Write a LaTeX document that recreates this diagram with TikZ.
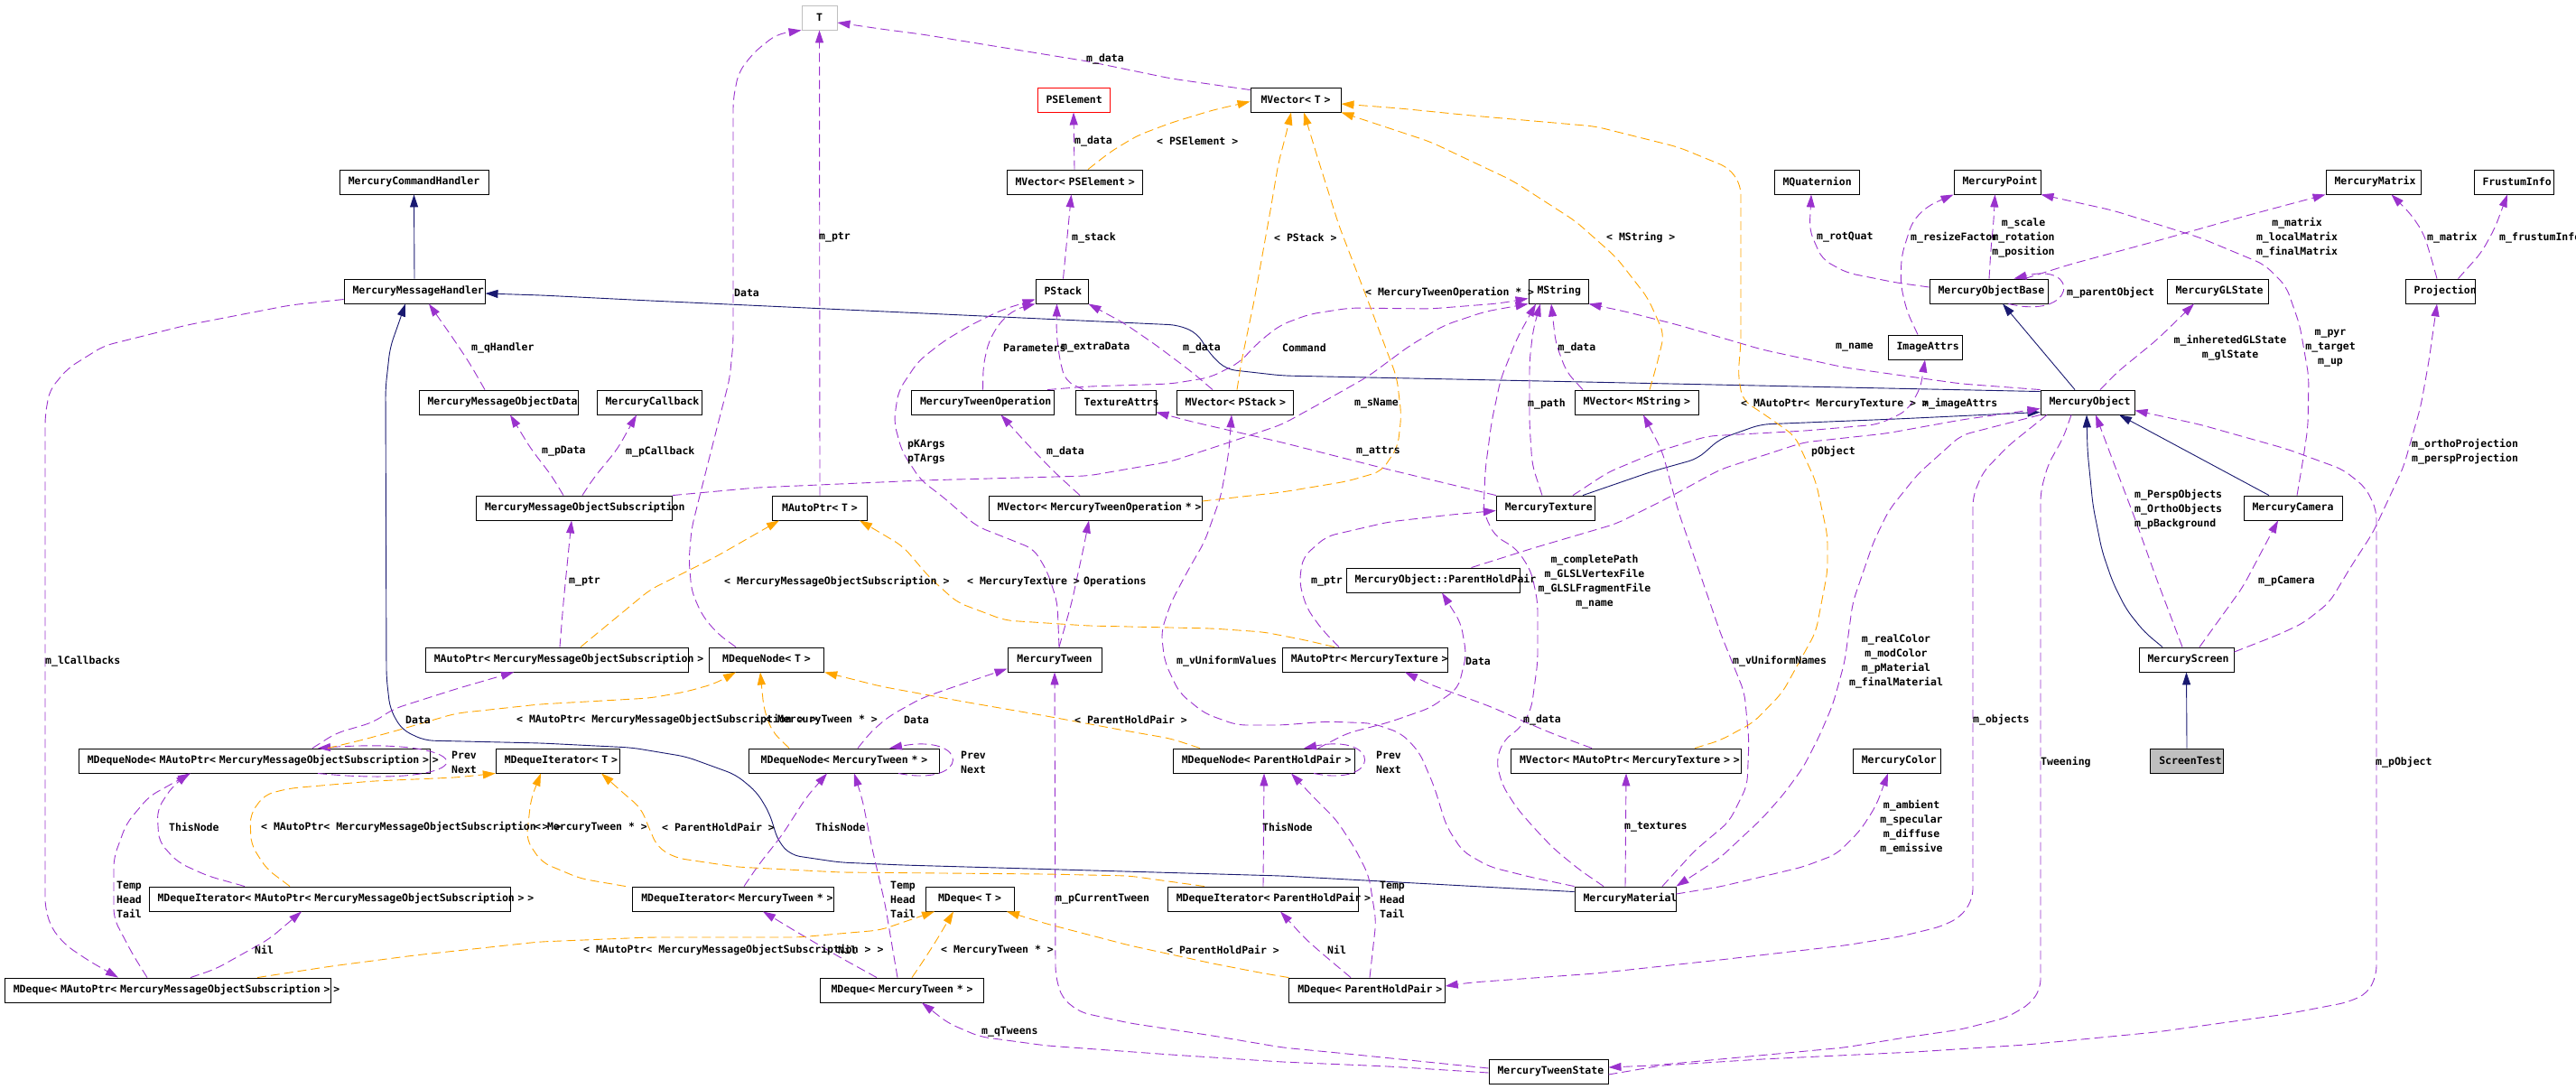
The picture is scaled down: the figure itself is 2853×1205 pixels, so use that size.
\documentclass[tikz,border=0pt]{standalone}
\usepackage{fontspec}
\setmonofont{DejaVu Sans Mono}
\usepackage{xcolor}
\usetikzlibrary{arrows.meta}

\definecolor{usecol}{HTML}{9A32CD}
\definecolor{tplcol}{HTML}{FFA500}
\definecolor{inhcol}{HTML}{191970}
\definecolor{boxgray}{HTML}{BFBFBF}
\newcommand{\dfont}{\ttfamily\bfseries\fontsize{11.5pt}{16pt}\selectfont}

\tikzset{
  cls/.style={draw=black, fill=white, line width=0.9pt, inner xsep=9.5pt, inner ysep=0pt,
    minimum height=27pt, text width=#1, align=center, font=\dfont},
  lbl/.style={font=\dfont, inner sep=0pt, anchor=west},
  member/.style={draw=usecol, line width=0.9pt, dash pattern=on 10pt off 5pt,
    rounded corners=10pt, -{Triangle[length=14pt,width=9pt]}},
  tmpl/.style={member, draw=tplcol},
  inherit/.style={draw=inhcol, line width=0.9pt, rounded corners=10pt,
    -{Triangle[length=14pt,width=9pt]}}
}

\begin{document}
\begin{tikzpicture}[x=1pt, y=-1pt]
  \useasboundingbox (0,0) rectangle (2853,1205);

  % Classes, row by row
  \node[cls=20pt, draw=boxgray] (tparam) at (907.5,19.5) {T};
  \node[cls=61pt, draw=red] (psel) at (1189,110.5) {PSElement};
  \node[cls=81pt] (mvt) at (1435,110.5) {\mbox{MVector< T >}};
  \node[cls=146pt] (mch) at (458.5,201.5) {MercuryCommandHandler};
  \node[cls=131pt] (mvpse) at (1190,201.5) {\mbox{MVector< PSElement >}};
  \node[cls=75pt] (mquat) at (2012,201.5) {MQuaternion};
  \node[cls=77pt] (mpoint) at (2212,201.5) {MercuryPoint};
  \node[cls=86pt] (mmatrix) at (2628.5,201.5) {MercuryMatrix};
  \node[cls=69pt] (frustum) at (2784,201.5) {FrustumInfo};
  \node[cls=137pt] (mmh) at (459,322.5) {MercuryMessageHandler};
  \node[cls=39pt] (pstack) at (1176,322.5) {PStack};
  \node[cls=47pt] (mstring) at (1726,322.5) {MString};
  \node[cls=112pt] (mobase) at (2202.5,322.5) {MercuryObjectBase};
  \node[cls=93pt] (mglstate) at (2456,322.5) {MercuryGLState};
  \node[cls=58pt] (proj) at (2702.5,322.5) {Projection};
  \node[cls=63pt] (imgattrs) at (2132,384.5) {ImageAttrs};
  \node[cls=157pt] (mmodata) at (552,445.5) {MercuryMessageObjectData};
  \node[cls=97pt] (mcallback) at (719,445.5) {MercuryCallback};
  \node[cls=139pt] (mtop) at (1088.5,445.5) {MercuryTweenOperation};
  \node[cls=70pt] (texattrs) at (1235.5,445.5) {TextureAttrs};
  \node[cls=110pt] (mvpstack) at (1367.5,445.5) {\mbox{MVector< PStack >}};
  \node[cls=118pt] (mvmstring) at (1812.5,445.5) {\mbox{MVector< MString >}};
  \node[cls=85pt] (mobj) at (2312,445.5) {MercuryObject};
  \node[cls=198pt] (mmosub) at (636,562.5) {MercuryMessageObjectSubscription};
  \node[cls=85.5pt] (mapt) at (908,562.5) {\mbox{MAutoPtr< T >}};
  \node[cls=217pt] (mvmtop) at (1213,562.5) {\mbox{MVector< MercuryTweenOperation * >}};
  \node[cls=90.5pt] (mtex) at (1712,562.5) {MercuryTexture};
  \node[cls=90pt] (mcam) at (2539.5,562.5) {MercuryCamera};
  \node[cls=173pt] (phpair) at (1587,642.5) {MercuryObject::ParentHoldPair};
  \node[cls=272.5pt] (mapmmos) at (617,730.5) {\mbox{MAutoPtr< MercuryMessageObjectSubscription >}};
  \node[cls=108.5pt] (mdnt) at (849,730.5) {\mbox{MDequeNode< T >}};
  \node[cls=85pt] (mtween) at (1168,730.5) {MercuryTween};
  \node[cls=164.5pt] (maptex) at (1512,730.5) {\mbox{MAutoPtr< MercuryTexture >}};
  \node[cls=86pt] (mscreen) at (2421.5,730.5) {MercuryScreen};
  \node[cls=370.5pt] (mdnmmos) at (282,842.5) {\mbox{MDequeNode< MAutoPtr< MercuryMessageObjectSubscription > >}};
  \node[cls=118.5pt] (mdit) at (618,842.5) {\mbox{MDequeIterator< T >}};
  \node[cls=191.5pt] (mdntw) at (935,842.5) {\mbox{MDequeNode< MercuryTween * >}};
  \node[cls=182.5pt] (mdnphp) at (1400,842.5) {\mbox{MDequeNode< ParentHoldPair >}};
  \node[cls=236pt] (mvmaptex) at (1801,842.5) {\mbox{MVector< MAutoPtr< MercuryTexture > >}};
  \node[cls=78.5pt] (mcolor) at (2101,842.5) {MercuryColor};
  \node[cls=61.5pt, fill=boxgray] (screentest) at (2422,842.5) {ScreenTest};
  \node[cls=381pt] (mdimmos) at (365,995.5) {\mbox{MDequeIterator< MAutoPtr< MercuryMessageObjectSubscription > >}};
  \node[cls=203.5pt] (mditw) at (812,995.5) {\mbox{MDequeIterator< MercuryTween * >}};
  \node[cls=79pt] (mdqt) at (1074,995.5) {\mbox{MDeque< T >}};
  \node[cls=192.5pt] (mdiphp) at (1399,995.5) {\mbox{MDequeIterator< ParentHoldPair >}};
  \node[cls=93pt] (mmat) at (1800,995.5) {MercuryMaterial};
  \node[cls=342.5pt] (mdqmmos) at (186,1096.5) {\mbox{MDeque< MAutoPtr< MercuryMessageObjectSubscription > >}};
  \node[cls=161.5pt] (mdqtw) at (999,1096.5) {\mbox{MDeque< MercuryTween * >}};
  \node[cls=153.5pt] (mdqphp) at (1514,1096.5) {\mbox{MDeque< ParentHoldPair >}};
  \node[cls=113pt] (mtstate) at (1715,1186.5) {MercuryTweenState};

  % Inheritance
  \draw[inherit] (mmh.north) -- (mch.south);
  \draw[inherit] ([yshift=-2pt]mobj.north west) -- (1420,416) -- (1358,409) -- (1340,392) -- (1326,369)
    -- (1305,360) -- (720,333) -- (600,327) -- ([yshift=-2.5pt]mmh.east);
  \draw[inherit] ([yshift=-6pt]mmat.north west) -- (1420,970) -- (1000,958) -- (930,955) -- (876,947)
    -- (862,932) -- (852,900) -- (838,877) -- (815,858) -- (760,838) -- (700,828) -- (600,823)
    -- (470,820) -- (445,808) -- (432,785) -- (428,750) -- (427,430) -- (432,385) -- ([xshift=-10pt]mmh.south);
  \draw[inherit] ([xshift=41pt]mtex.north) -- (1830,522) -- (1880,508) -- (1905,486) -- (1950,470)
    -- (2100,464) -- ([yshift=3pt]mobj.south west);
  \draw[inherit] ([xshift=-14pt]mobj.north) -- ([xshift=15.5pt]mobase.south);
  \draw[inherit] ([xshift=-26.5pt]mcam.north) -- ([xshift=35pt]mobj.south);
  \draw[inherit] ([xshift=-26.5pt]mscreen.north) -- (2375,700) -- (2355,675) -- (2340,645) -- (2328,610)
    -- (2318,560) -- (2312,500) -- ([xshift=-1pt]mobj.south);
  \draw[inherit] (screentest.north) -- (mscreen.south);

  % Members: template side
  \draw[member] ([yshift=-3pt]mvt.north west) -- (1297,87) -- (1205,68) -- (1113,53) -- (1021,38)
    -- (975,32) -- ([yshift=-5.5pt]tparam.east);
  \draw[member] (mapt.north) -- (tparam.south);
  \draw[member] ([xshift=-34pt]mdnt.north) -- (795,702) -- (778,682) -- (766,655) -- (763,620) -- (766,585)
    -- (776,545) -- (795,470) -- (808,420) -- (812,380) -- (812,110) -- (818,80) -- (835,58) -- (860,38)
    -- (tparam.south west);
  \draw[member] (mvpse.north) -- (psel.south);
  \draw[member] ([xshift=1.5pt]pstack.north) -- ([xshift=-3.5pt]mvpse.south);

  % Members: PStack and MString
  \draw[member] ([xshift=5pt]mtween.north) -- (1171,667) -- (1160,633) -- (1145,608) -- (1110,594)
    -- (1082,583) -- (1044,550) -- (1020,532) -- (999,500) -- (990,467) -- (995,433) -- (1017,400)
    -- (1045,378) -- (1075,360) -- (1110,343) -- ([yshift=-9pt]pstack.west);
  \draw[member] (mtop.north) -- (1089,405) -- (1095,378) -- (1108,356) -- (1125,342) -- (pstack.south west);
  \draw[member] ([xshift=-35.5pt]texattrs.north) -- (1180,422) -- (1174,400) -- (1170,370)
    -- ([xshift=-5.5pt]pstack.south);
  \draw[member] ([xshift=-24.5pt]mvpstack.north) -- (1320,412) -- (1280,382) -- (1245,358) -- (pstack.south east);
  \draw[member] ([xshift=71.5pt]mtop.north) -- (1205,428) -- (1297,425) -- (1340,418) -- (1372,402)
    -- (1395,378) -- (1418,360) -- (1450,348) -- (1495,341) -- (1584,342) -- (1660,336)
    -- ([yshift=-8pt]mstring.west);
  \draw[member] (mmosub.north east) -- (838,540) -- (1021,532) -- (1205,527) -- (1297,511) -- (1361,490)
    -- (1420,470) -- (1469,443) -- (1515,417) -- (1561,383) -- (1600,360) -- (1645,345) -- (mstring.south west);
  \draw[member] ([xshift=-4pt]mtex.north) -- (1697,515) -- (1694,470) -- (1694,400) -- (1698,365)
    -- ([xshift=-20pt]mstring.south);
  \draw[member] ([xshift=-59.5pt]mvmstring.north) -- (1735,412) -- (1723,380) -- ([xshift=-8pt]mstring.south);
  \draw[member] ([xshift=-24pt]mmat.north) -- (1749,963) -- (1721,940) -- (1700,918) -- (1680,895)
    -- (1664,870) -- (1657,843) -- (1665,820) -- (1685,805) -- (1696,785) -- (1703,733) -- (1703,667)
    -- (1696,633) -- (1680,608) -- (1655,593) -- (1643,567) -- (1645,520) -- (1652,467) -- (1662,420)
    -- (1680,375) -- ([xshift=-25pt]mstring.south);
  \draw[member] (mobj.north west) -- (2172,425) -- (2043,407) -- (1951,387) -- (1859,360) -- (1800,345)
    -- (mstring.south east);

  % Members: MercuryObject and friends
  \draw[member] ([xshift=42.5pt]phpair.north) -- (1698,607) -- (1790,580) -- (1850,550) -- (1905,520)
    -- (1997,490) -- (2089,480) -- (2172,465) -- ([yshift=-7pt]mobj.west);
  \draw[member] ([xshift=30pt]mtex.north) -- (1781,523) -- (1836,500) -- (1891,483) -- (2000,477)
    -- (2080,470) -- (2112,455) -- (2127,430) -- (imgattrs.south);
  \draw[member] ([xshift=-45pt]mobj.south) -- (2225,493) -- (2196,523) -- (2185,550) -- (2185,995)
    -- (2172,1015) -- (2150,1026) -- (2105,1037) -- (2043,1047) -- (1905,1063) -- (1767,1078)
    -- (1630,1088) -- ([yshift=4.5pt]mdqphp.east);
  \draw[member] ([xshift=-18pt]mobj.south) -- (2285,485) -- (2268,515) -- (2260,545) -- (2260,1095)
    -- (2248,1112) -- (2222,1127) -- (2172,1140) -- (2110,1149) -- (2043,1160) -- (1905,1173)
    -- (1830,1180) -- ([yshift=4.5pt]mtstate.east);
  \draw[member] ([yshift=-3.5pt]mtstate.east) -- (1840,1180) -- (1951,1173) -- (2120,1165) -- (2244,1157)
    -- (2388,1143) -- (2532,1123) -- (2600,1110) -- (2622,1100) -- (2632,1080) -- (2632,565)
    -- (2620,540) -- (2595,520) -- (2532,497) -- (2436,470) -- ([yshift=-9pt]mobj.east);
  \draw[member] (mobj.south west) -- (2172,482) -- (2124,525) -- (2092,565) -- (2075,600) -- (2052,667)
    -- (2043,733) -- (2030,780) -- (2015,815) -- (1997,850) -- (1975,880) -- (1951,907) -- (1905,950)
    -- (mmat.north east);
  \draw[member] ([xshift=41pt]mmat.north) -- (1877,942) -- (1915,910) -- (1935,870) -- (1937,820)
    -- (1932,767) -- (1905,700) -- (1882,633) -- (1859,567) -- (1841,500) -- ([xshift=7.5pt]mvmstring.south);
  \draw[member] (mmat.north west) -- (1698,972) -- (1650,960) -- (1620,943) -- (1602,915) -- (1588,870)
    -- (1572,833) -- (1552,812) -- (1520,801) -- (1469,799) -- (1420,803) -- (1370,803) -- (1334,790)
    -- (1306,767) -- (1290,733) -- (1286,700) -- (1297,667) -- (1315,633) -- (1334,600) -- (1352,550)
    -- (1361,500) -- ([xshift=-3.5pt]mvpstack.south);
  \draw[member] (mmat.north) -- (mvmaptex.south);
  \draw[member] ([yshift=5.5pt]mmat.east) -- (1905,982) -- (1997,960) -- (2034,946) -- (2060,920)
    -- (2078,892) -- ([xshift=-10pt]mcolor.south);
  \draw[member] ([xshift=-38pt]mvmaptex.north) -- (1721,813) -- (1690,800) -- (1652,783) -- (1584,758)
    -- ([xshift=44pt]maptex.south);

  % Members: object base, camera, screen
  \draw[member] ([xshift=22pt]mobase.south) .. controls (2300,355) and (2305,290) .. ([xshift=28pt]mobase.north);
  \draw[member] ([xshift=0.5pt]mobase.north) -- (2205,275) -- (2208,245) -- ([xshift=-2.5pt]mpoint.south);
  \draw[member] ([xshift=-8pt]imgattrs.north) -- (2112,345) -- (2105,315) -- (2106,283) -- (2118,245)
    -- (2135,228) -- (mpoint.south west);
  \draw[member] ([yshift=4.5pt]mobase.west) -- (2100,313) -- (2045,302) -- (2018,287) -- (2004,255)
    -- ([xshift=-6pt]mquat.south);
  \draw[member] ([xshift=40pt]mobase.north) -- (2292,293) -- (2388,267) -- (2484,240) -- (mmatrix.south west);
  \draw[member] ([xshift=4.5pt]mcam.north) -- (2551,507) -- (2556,473) -- (2557,417) -- (2547,360)
    -- (2532,317) -- (2508,293) -- (2436,263) -- (2340,233) -- (mpoint.south east);
  \draw[member] ([xshift=14pt]mobj.north) -- (2345,412) -- (2388,377) -- ([xshift=-26pt]mglstate.south);
  \draw[member] ([xshift=-3.5pt]proj.north) -- (2691,280) -- (2684,258) -- (2670,237) -- ([xshift=20pt]mmatrix.south);
  \draw[member] ([xshift=20pt]proj.north) -- (2748,280) -- (2763,253) -- ([xshift=-7pt]frustum.south);
  \draw[member] ([yshift=8.5pt]mscreen.east) -- (2523,703) -- (2551,690) -- (2580,667) -- (2604,627)
    -- (2628,590) -- (2662,517) -- (2681,450) -- (2690,400) -- ([xshift=-3.5pt]proj.south);
  \draw[member] ([xshift=14.5pt]mscreen.north) -- (2484,650) -- ([xshift=-16.5pt]mcam.south);
  \draw[member] ([xshift=-4.5pt]mscreen.north) -- (2388,640) -- (2364,573) -- (2340,510) -- ([xshift=9pt]mobj.south);

  % Members: message handling
  \draw[member] ([xshift=-15pt]mmodata.north) -- (520,402) -- (502,375) -- ([xshift=16pt]mmh.south);
  \draw[member] ([yshift=-9pt]mmh.west) -- (321,338) -- (207,360) -- (115,383) -- (75,408) -- (55,432)
    -- (50,460) -- (50,1005) -- (57,1028) -- (73,1047) -- (100,1065) -- ([xshift=-55pt]mdqmmos.north);
  \draw[member] ([xshift=-12pt]mmosub.north) -- (611,527) -- (588,497) -- ([xshift=13pt]mmodata.south);
  \draw[member] ([xshift=9pt]mmosub.north) -- (657,530) -- (684,497) -- ([xshift=-14pt]mcallback.south);
  \draw[member] ([xshift=3pt]mapmmos.north) -- (624,667) -- ([xshift=-3pt]mmosub.south);
  \draw[member] ([xshift=64pt]mdnmmos.north) -- (372,812) -- (413,800) -- (436,785) -- (505,763)
    -- ([xshift=-48pt]mapmmos.south);
  \draw[member] ([xshift=70pt]mdnmmos.south) .. controls (540,875) and (540,815) .. ([xshift=70pt]mdnmmos.north);
  \draw[member] ([xshift=-94pt]mdimmos.north) -- (230,970) -- (197,955) -- (176,932) -- (174,897)
    -- (190,872) -- ([xshift=-73pt]mdnmmos.south);
  \draw[member] ([xshift=-23pt]mdqmmos.north) -- (147,1057) -- (126,1017) -- (126,950) -- (140,912)
    -- (165,882) -- ([xshift=-71pt]mdnmmos.south);
  \draw[member] ([xshift=25pt]mdqmmos.north) -- (239,1073) -- (298,1040) -- ([xshift=-31pt]mdimmos.south);

  % Members: tweens
  \draw[member] ([xshift=15pt]mdntw.north) -- (965,810) -- (985,793) -- (1021,773) -- (1067,757)
    -- ([yshift=-10pt]mtween.west);
  \draw[member] ([xshift=60pt]mdntw.south) .. controls (1075,872) and (1075,812) .. ([xshift=50pt]mdntw.north);
  \draw[member] ([xshift=12pt]mditw.north) -- (840,958) -- (866,925) -- (893,883) -- ([xshift=-19pt]mdntw.south);
  \draw[member] ([xshift=-5pt]mdqtw.north) -- (980,1000) -- (966,940) -- (955,885) -- ([xshift=11pt]mdntw.south);
  \draw[member] ([xshift=-28pt]mdqtw.north) -- (930,1060) -- (884,1033) -- ([xshift=33pt]mditw.south);
  \draw[member] ([yshift=-1.5pt]mtstate.west) -- (1538,1181) -- (1420,1176) -- (1297,1168) -- (1159,1158)
    -- (1085,1148) -- (1050,1133) -- ([xshift=22pt]mdqtw.south);
  \draw[member] ([yshift=3.5pt]mtstate.west) -- (1492,1167) -- (1420,1160) -- (1343,1147) -- (1251,1133)
    -- (1196,1121) -- (1176,1105) -- (1169,1080) -- (mtween.south);
  \draw[member] ([xshift=-17pt]mvmtop.north) -- (1168,523) -- (1136,490) -- ([xshift=20pt]mtop.south);
  \draw[member] ([xshift=5pt]mtween.north) -- (1187,667) -- (1200,607) -- ([xshift=-7pt]mvmtop.south);

  % Members: textures and parent pairs
  \draw[member] ([xshift=-29pt]maptex.north) -- (1464,697) -- (1447,673) -- (1439,645) -- (1443,617)
    -- (1469,594) -- (1538,578) -- (1607,570) -- ([yshift=-3pt]mtex.west);
  \draw[member] (mtex.north west) -- (1538,520) -- (1420,490) -- (1320,467) -- ([yshift=-11pt]texattrs.east);
  \draw[member] ([xshift=60pt]mdnphp.north) -- (1492,812) -- (1538,800) -- (1584,784) -- (1615,762)
    -- (1624,725) -- (1618,690) -- ([xshift=10pt]phpair.south);
  \draw[member] ([xshift=55pt]mdnphp.south) .. controls (1530,872) and (1530,812) .. ([xshift=44pt]mdnphp.north);
  \draw[member] (mdiphp.north) -- (mdnphp.south);
  \draw[member] ([xshift=3pt]mdqphp.north) -- (1524,1020) -- (1516,970) -- (1501,940) -- (1480,908)
    -- (1452,880) -- ([xshift=30pt]mdnphp.south);
  \draw[member] ([xshift=-18pt]mdqphp.north) -- (1469,1060) -- (1446,1040) -- ([xshift=19pt]mdiphp.south);

  % Template instances
  \draw[tmpl] ([xshift=15pt]mvpse.north) -- (1230,168) -- (1260,150) -- (1297,136) -- (1343,122)
    -- ([yshift=-2pt]mvt.west);
  \draw[tmpl] ([xshift=2.5pt]mvpstack.north) -- (1375,400) -- (1389,333) -- (1407,233) -- (1416,180)
    -- (1424,150) -- ([xshift=-5pt]mvt.south);
  \draw[tmpl] ([yshift=7.5pt]mvmtop.east) -- (1420,545) -- (1492,533) -- (1530,522) -- (1548,495)
    -- (1552,460) -- (1547,418) -- (1515,333) -- (1483,250) -- (1460,177) -- ([xshift=9pt]mvt.south);
  \draw[tmpl] ([xshift=14.5pt]mvmstring.north) -- (1836,400) -- (1843,370) -- (1825,330) -- (1790,285)
    -- (1745,245) -- (1675,200) -- (1584,157) -- (mvt.south east);
  \draw[tmpl] ([xshift=76pt]mvmaptex.north) -- (1905,820) -- (1942,800) -- (1974,767) -- (2011,700)
    -- (2024,633) -- (2024,593) -- (2011,533) -- (1988,483) -- (1960,463) -- (1930,443) -- (1925,415)
    -- (1928,380) -- (1928,205) -- (1915,186) -- (1859,163) -- (1767,140) -- (1630,128) -- (1550,120)
    -- ([yshift=-4.5pt]mvt.east);
  \draw[tmpl] ([xshift=26pt]mapmmos.north) -- (720,653) -- (792,617) -- ([xshift=-45pt]mapt.south);
  \draw[tmpl] ([xshift=-34pt]maptex.north) -- (1446,709) -- (1400,700) -- (1343,696) -- (1205,693)
    -- (1113,687) -- (1060,667) -- (1030,640) -- (1000,605) -- (975,590) -- ([xshift=44pt]mapt.south);
  \draw[tmpl] ([xshift=81pt]mdnmmos.north) -- (399,820) -- (436,810) -- (505,790) -- (597,780) -- (720,773)
    -- (760,766) -- (792,757) -- ([xshift=-34pt]mdnt.south);
  \draw[tmpl] ([xshift=-61pt]mdntw.north) -- (855,810) -- (846,785) -- ([xshift=-7pt]mdnt.south);
  \draw[tmpl] ([xshift=-71pt]mdnphp.north) -- (1297,818) -- (1251,810) -- (1159,793) -- (1067,777)
    -- (975,760) -- (mdnt.south east);
  \draw[tmpl] ([xshift=-44pt]mdimmos.north) -- (295,962) -- (278,935) -- (277,902) -- (293,880) -- (321,873)
    -- (413,865) -- (505,861) -- (mdit.south west);
  \draw[tmpl] ([xshift=-119pt]mditw.north) -- (643,973) -- (600,955) -- (583,930) -- (588,885)
    -- ([xshift=-19pt]mdit.south);
  \draw[tmpl] ([xshift=-65pt]mdiphp.north) -- (1251,970) -- (1159,968) -- (930,966) -- (815,960) -- (748,950)
    -- (728,938) -- (718,915) -- (710,895) -- (690,878) -- ([xshift=48pt]mdit.south);
  \draw[tmpl] ([xshift=99pt]mdqmmos.north) -- (367,1070) -- (459,1058) -- (597,1043) -- (720,1038)
    -- (884,1038) -- (975,1030) -- ([xshift=-39pt]mdqt.south);
  \draw[tmpl] ([xshift=11pt]mdqtw.north) -- (1022,1065) -- (1038,1040) -- ([xshift=-18pt]mdqt.south);
  \draw[tmpl] (mdqphp.north west) -- (1400,1078) -- (1343,1067) -- (1251,1047) -- (1159,1023)
    -- ([xshift=41pt]mdqt.south);

  % Edge labels
  \node[lbl] (l1) at (1203,65) {m\_data};
  \node[lbl] (l2) at (907,263) {m\_ptr};
  \node[lbl] (l3) at (813,324) {Data};
  \node[lbl] (l4) at (1190,156) {m\_data};
  \node[lbl] (l5) at (1187,263) {m\_stack};
  \node[lbl, align=left] (l6) at (1005,500) {pKArgs\\pTArgs};
  \node[lbl] (l7) at (1111,385) {Parameters};
  \node[lbl] (l8) at (1175,385) {m\_extraData};
  \node[lbl] (l9) at (1310,385) {m\_data};
  \node[lbl] (l10) at (1420,385) {Command};
  \node[lbl] (l11) at (1500,447) {m\_sName};
  \node[lbl] (l12) at (1692,447) {m\_path};
  \node[lbl] (l13) at (1725.5,385) {m\_data};
  \node[lbl, anchor=center, align=center] (l14) at (1766,644)
    {m\_completePath\\m\_GLSLVertexFile\\m\_GLSLFragmentFile\\m\_name};
  \node[lbl] (l15) at (2033,385) {m\_name};
  \node[lbl] (l16) at (2006,500) {pObject};
  \node[lbl] (l17) at (2129,447) {m\_imageAttrs};
  \node[lbl] (l18) at (2185,797) {m\_objects};
  \node[lbl] (l19) at (2260,844) {Tweening};
  \node[lbl] (l20) at (2631,844) {m\_pObject};
  \node[lbl, anchor=center, align=center] (l21) at (2100,732)
    {m\_realColor\\m\_modColor\\m\_pMaterial\\m\_finalMaterial};
  \node[lbl] (l22) at (1919,732) {m\_vUniformNames};
  \node[lbl] (l23) at (1303,732) {m\_vUniformValues};
  \node[lbl] (l24) at (1799,916) {m\_textures};
  \node[lbl, anchor=center, align=center] (l25) at (2117,916)
    {m\_ambient\\m\_specular\\m\_diffuse\\m\_emissive};
  \node[lbl] (l26) at (2289,324) {m\_parentObject};
  \node[lbl, anchor=center, align=center] (l27) at (2241,263) {m\_scale\\m\_rotation\\m\_position};
  \node[lbl] (l28) at (2116,263) {m\_resizeFactor};
  \node[lbl] (l29) at (2012,263) {m\_rotQuat};
  \node[lbl, anchor=center, align=center] (l30) at (2544,263) {m\_matrix\\m\_localMatrix\\m\_finalMatrix};
  \node[lbl, anchor=center, align=center] (l31) at (2581,386) {m\_pyr\\m\_target\\m\_up};
  \node[lbl, anchor=center, align=center] (l32) at (2470,385) {m\_inheretedGLState\\m\_glState};
  \node[lbl] (l33) at (2688,263) {m\_matrix};
  \node[lbl] (l34) at (2768,263) {m\_frustumInfo};
  \node[lbl, align=left] (l35) at (2671,500) {m\_orthoProjection\\m\_perspProjection};
  \node[lbl] (l36) at (2501,644) {m\_pCamera};
  \node[lbl, align=left] (l37) at (2364,564) {m\_PerspObjects\\m\_OrthoObjects\\m\_pBackground};
  \node[lbl] (l38) at (522,385) {m\_qHandler};
  \node[lbl] (l39) at (50,732) {m\_lCallbacks};
  \node[lbl] (l40) at (600,500) {m\_pData};
  \node[lbl] (l41) at (693,500) {m\_pCallback};
  \node[lbl] (l42) at (630,644) {m\_ptr};
  \node[lbl] (l43) at (449,797) {Data};
  \node[lbl, align=left] (l44) at (500,844) {Prev\\Next};
  \node[lbl] (l45) at (187,916) {ThisNode};
  \node[lbl, anchor=center, align=center] (l46) at (143,996) {Temp\\Head\\Tail};
  \node[lbl] (l47) at (282,1052) {Nil};
  \node[lbl] (l48) at (1001,797) {Data};
  \node[lbl, align=left] (l49) at (1064,844) {Prev\\Next};
  \node[lbl] (l50) at (903,916) {ThisNode};
  \node[lbl, anchor=center, align=center] (l51) at (1000,996) {Temp\\Head\\Tail};
  \node[lbl] (l52) at (928,1052) {Nil};
  \node[lbl] (l53) at (1087,1143) {m\_qTweens};
  \node[lbl] (l54) at (1169,996) {m\_pCurrentTween};
  \node[lbl] (l55) at (1159,500) {m\_data};
  \node[lbl] (l56) at (1200,644) {Operations};
  \node[lbl] (l57) at (1452,644) {m\_ptr};
  \node[lbl] (l58) at (1502,500) {m\_attrs};
  \node[lbl] (l59) at (1623,732) {Data};
  \node[lbl, align=left] (l60) at (1524,844) {Prev\\Next};
  \node[lbl] (l61) at (1398,916) {ThisNode};
  \node[lbl, anchor=center, align=center] (l62) at (1542,996) {Temp\\Head\\Tail};
  \node[lbl] (l63) at (1470,1052) {Nil};
  \node[lbl] (l64) at (1687,797) {m\_data};
  \node[lbl] (l65) at (1281,156) {< PSElement >};
  \node[lbl] (l66) at (1411,263) {< PStack >};
  \node[lbl] (l67) at (1512,324) {< MercuryTweenOperation * >};
  \node[lbl] (l68) at (1779,263) {< MString >};
  \node[lbl] (l69) at (1928,447) {< MAutoPtr< MercuryTexture > >};
  \node[lbl] (l70) at (802,644) {< MercuryMessageObjectSubscription >};
  \node[lbl] (l71) at (1071,644) {< MercuryTexture >};
  \node[lbl] (l72) at (572,797) {< MAutoPtr< MercuryMessageObjectSubscription > >};
  \node[lbl] (l73) at (847,797) {< MercuryTween * >};
  \node[lbl] (l74) at (1190,797) {< ParentHoldPair >};
  \node[lbl] (l75) at (289,916) {< MAutoPtr< MercuryMessageObjectSubscription > >};
  \node[lbl] (l76) at (592,916) {< MercuryTween * >};
  \node[lbl] (l77) at (733,916) {< ParentHoldPair >};
  \node[lbl] (l78) at (646,1052) {< MAutoPtr< MercuryMessageObjectSubscription > >};
  \node[lbl] (l79) at (1042,1052) {< MercuryTween * >};
  \node[lbl] (l80) at (1292,1052) {< ParentHoldPair >};
\end{tikzpicture}
\end{document}
